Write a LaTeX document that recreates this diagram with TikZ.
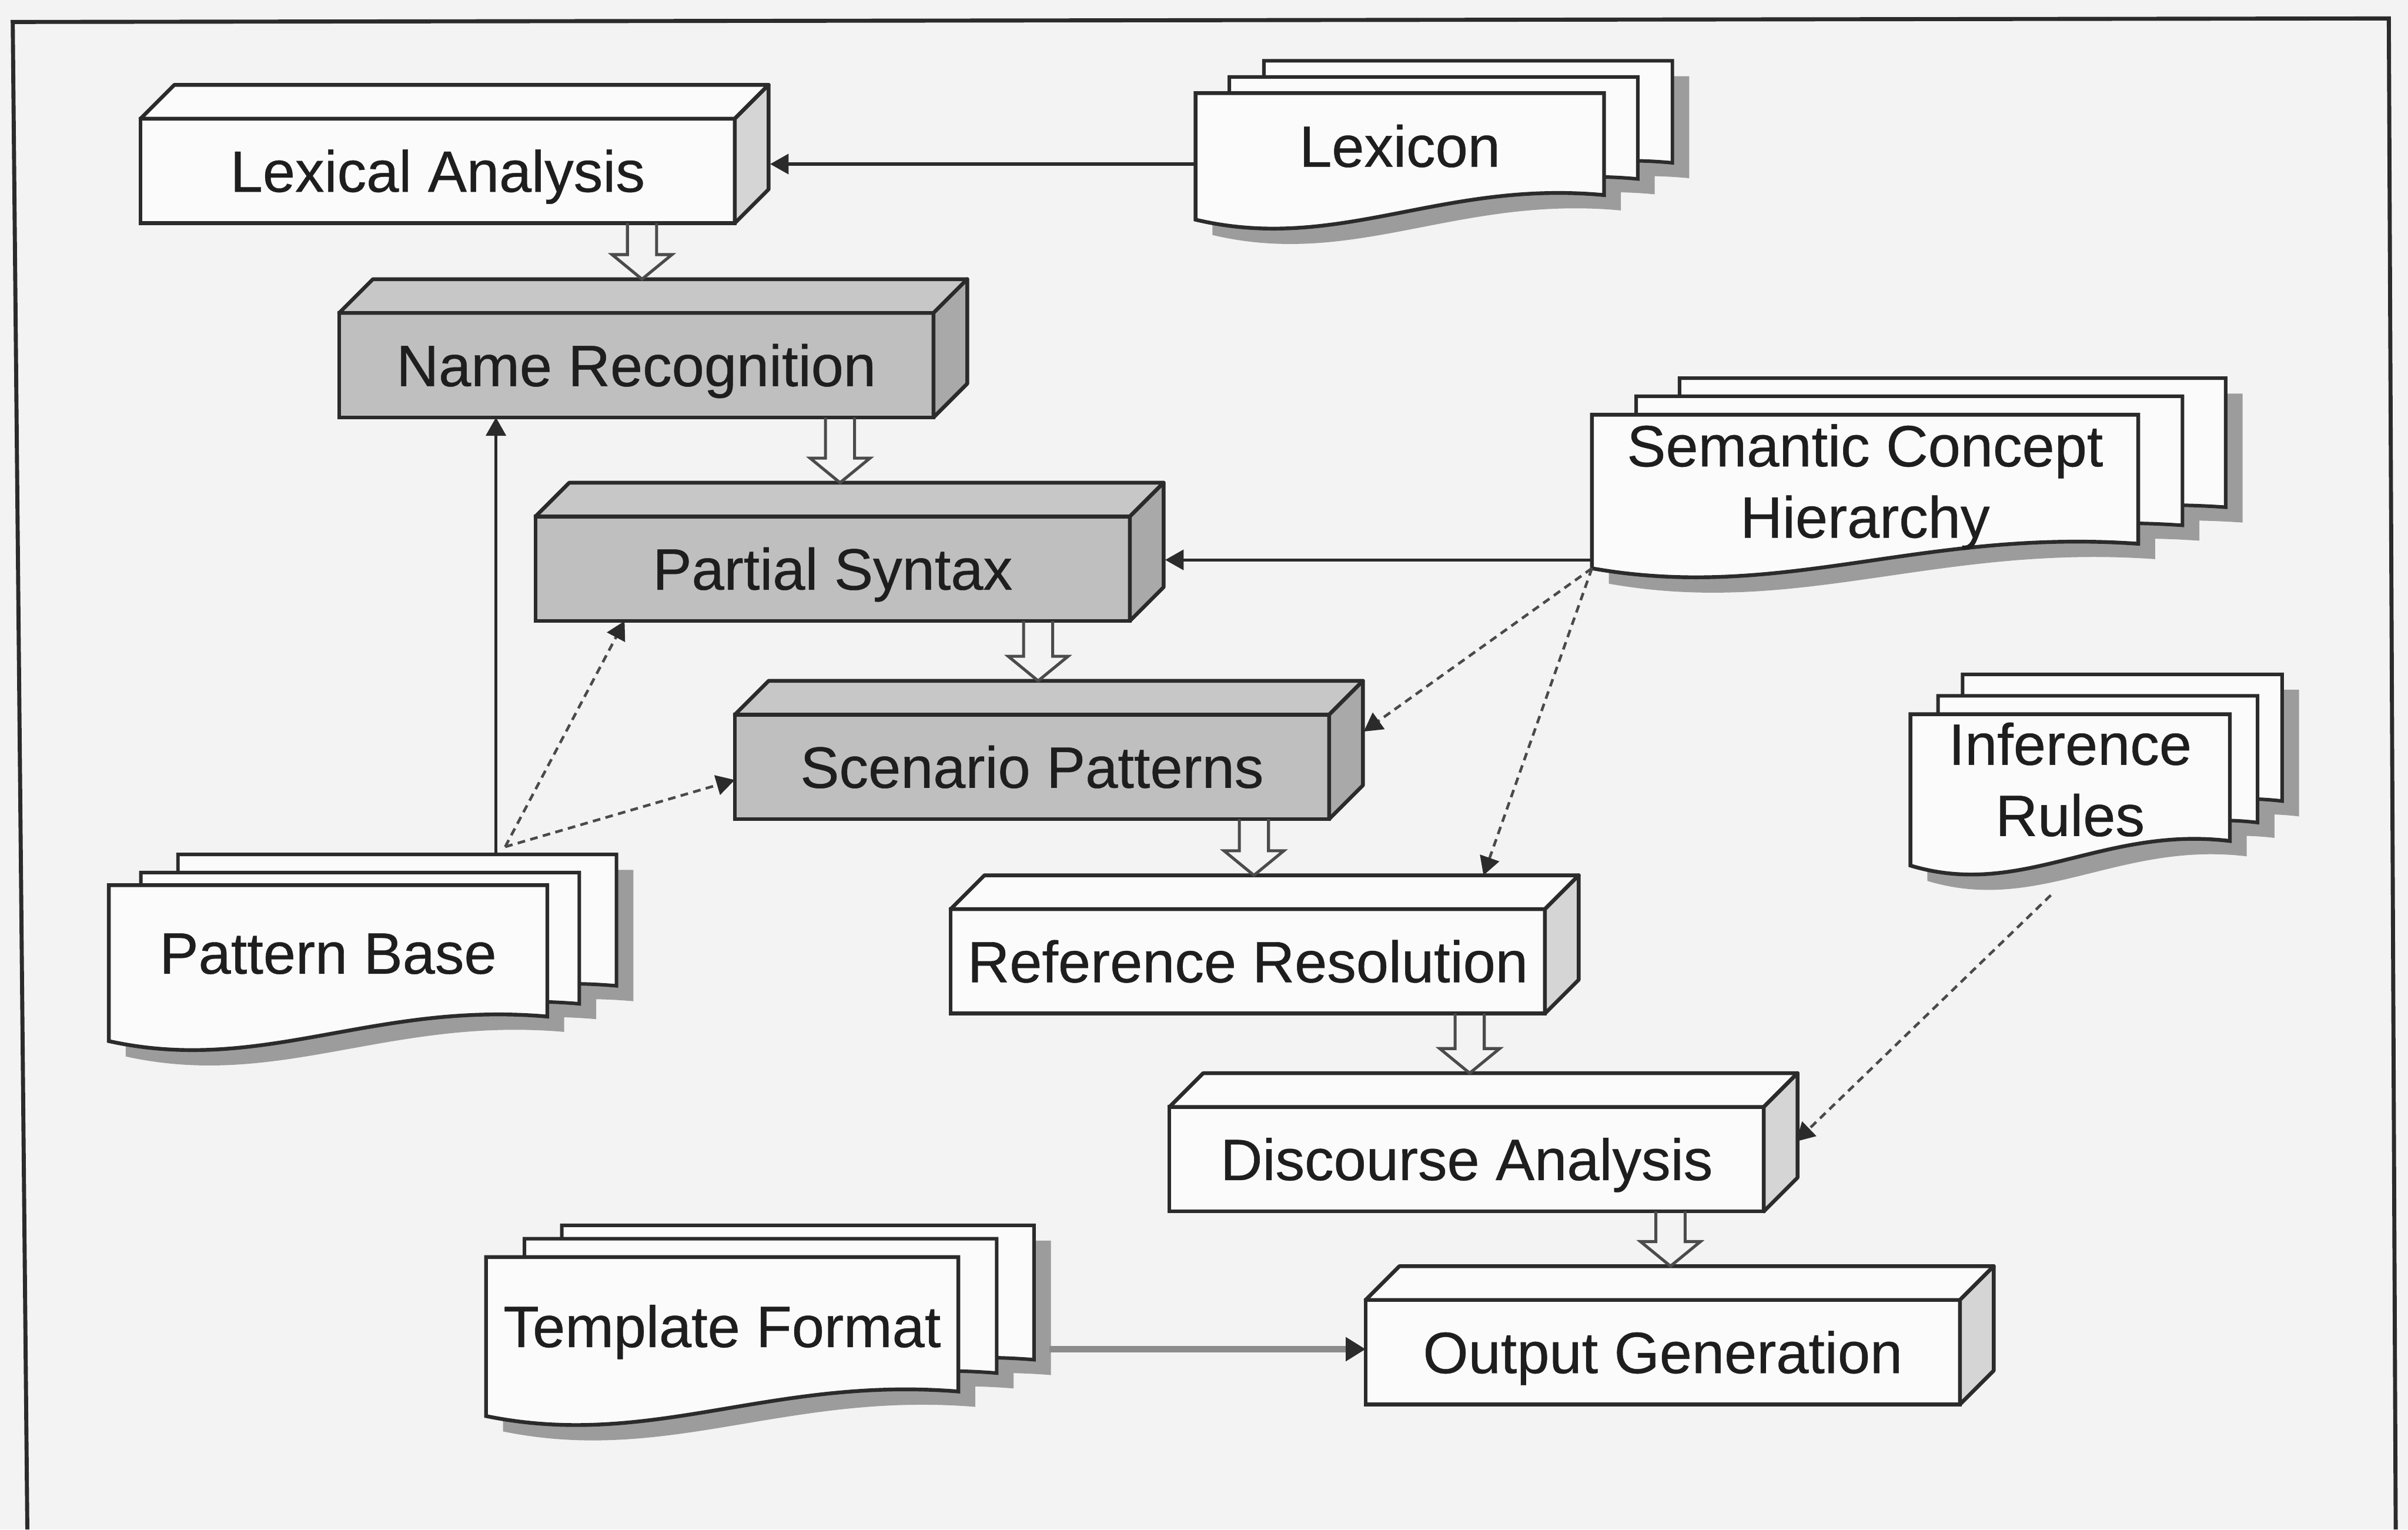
\documentclass[tikz,border=0pt]{standalone}
\usepackage{fontspec}
\setmainfont{Liberation Sans}
\newfontfamily\diafam{Liberation Sans}[FakeBold=0.45]
\usetikzlibrary{arrows.meta,calc}

\definecolor{paper}{HTML}{F3F3F3}
\definecolor{ink}{HTML}{2B2B2B}
\definecolor{textink}{HTML}{1E1E1E}
\definecolor{sheet}{HTML}{FBFBFB}
\definecolor{greyface}{HTML}{BFBFBF}
\definecolor{greytop}{HTML}{C7C7C7}
\definecolor{greyside}{HTML}{A9A9A9}
\definecolor{whiteside}{HTML}{D5D5D5}
\definecolor{shade}{HTML}{9C9C9C}
\definecolor{dashink}{HTML}{4A4A4A}
\definecolor{feedline}{HTML}{8C8C8C}

\newcommand\diafont{\diafam\fontsize{10.8pt}{13.2pt}\selectfont}
\newcommand\stacktext[1]{\raisebox{0.7pt}[\height][\depth]{\begin{tabular}{@{}c@{}}#1\end{tabular}}}

% one sheet of a document stack: top-left corner, width, height of the left side, path style
\newcommand\docshape[5]{%
  \path[#5] (#1,#2) -- ++(#3,0) -- ++(0,#4-16)
    .. controls +(-0.4*#3,-10) and +(0.35*#3,22) .. (#1,#2+#4) -- cycle;}

% a stack of three sheets with a drop shadow: x, y, w, h, offsets of the two back sheets
\newcommand\docstack[8]{%
  \foreach \ox/\oy in {#7/#8,#5/#6,0/0}
    {\docshape{#1+\ox+11}{#2+\oy+10}{#3}{#4}{fill=shade}}
  \docshape{#1+#7}{#2+#8}{#3}{#4}{draw=ink,fill=sheet,line width=0.65pt}
  \docshape{#1+#5}{#2+#6}{#3}{#4}{draw=ink,fill=sheet,line width=0.65pt}
  \docshape{#1}{#2}{#3}{#4}{draw=ink,fill=sheet,line width=0.7pt}}

\begin{document}
\begin{tikzpicture}[x=0.1mm,y=-0.1mm,
  box/.style={draw=ink, line width=0.7pt, minimum width=38.7mm, minimum height=6.8mm,
    inner sep=0pt, outer sep=0pt, font=\diafont, text=textink, text height=7.75pt, text depth=0pt},
  whitebox/.style={box, fill=sheet},
  greybox/.style={box, fill=greyface},
  face/.style={draw=ink, line width=0.7pt, line join=round},
  docnode/.style={inner sep=0pt, outer sep=0pt, font=\diafont, text=textink},
  conn/.style={draw=ink, line width=0.55pt, -{Triangle[width=1.3mm,length=1.2mm]}},
  dconn/.style={draw=dashink, line width=0.5pt, dash pattern=on 0.5mm off 0.35mm,
    -{Triangle[width=1.3mm,length=1.2mm,color=ink]}},
  feed/.style={draw=feedline, line width=1.1pt, -{Triangle[width=1.5mm,length=1.3mm,color=ink]}},
  hollow/.style={draw=ink!85, line width=0.55pt, line join=miter,
    to path={let \p1=(\tikztostart), \p2=(\tikztotarget) in
      (\x1-0.95mm,\y1) -- (\x1-0.95mm,\y2+1.6mm) -- (\x1-1.95mm,\y2+1.6mm) -- (\x1,\y2)
      -- (\x1+1.95mm,\y2+1.6mm) -- (\x1+0.95mm,\y2+1.6mm) -- (\x1+0.95mm,\y1)}}
]
\useasboundingbox (0,0) rectangle (1568,995.7);
\fill[paper] (0,0) rectangle (1568,995.7);

% frame
\draw[ink, line width=0.75pt] (17.8,995.7) -- (8.3,14.3) -- (1555.5,12) -- (1560,995.7);

% document stacks
\docstack{778.5}{60.6}{266}{82.4}{22}{-10.5}{44.5}{-21}
\docstack{1036.6}{270}{355.7}{100}{28.8}{-12}{57}{-23.8}
\docstack{1244}{465}{208}{98.5}{18}{-12}{34}{-26}
\docstack{70.9}{576.3}{285.5}{101.5}{20.8}{-8.3}{45}{-20}
\docstack{316.5}{818.4}{307.5}{103.5}{25}{-12}{49.3}{-20.7}

\node[docnode, minimum width=26.6mm, minimum height=8.24mm] (lex) at (911.5,101.8) {\stacktext{Lexicon}};
\node[docnode, minimum width=35.57mm, minimum height=10mm] (sch) at (1214.45,320) {\stacktext{Semantic Concept\\Hierarchy}};
\node[docnode, minimum width=20.8mm, minimum height=9.85mm] (ir) at (1348,514.25) {\stacktext{Inference\\Rules}};
\node[docnode, minimum width=28.55mm, minimum height=10.15mm] (pb) at (213.65,627.05) {\stacktext{Pattern Base}};
\node[docnode, minimum width=30.75mm, minimum height=10.35mm] (tf) at (470.25,870.15) {\stacktext{Template Format}};

% processing stages
\node[whitebox] (la) at (285,111.25)   {Lexical Analysis};
\node[greybox]  (nr) at (414.35,237.75) {Name Recognition};
\node[greybox]  (ps) at (542.2,370.25)  {Partial Syntax};
\node[greybox]  (sp) at (672,499.25)    {Scenario Patterns};
\node[whitebox] (rr) at (812.5,625.85)  {Reference Resolution};
\node[whitebox] (da) at (955,754.65)    {Discourse Analysis};
\node[whitebox] (og) at (1082.75,880.3) {Output Generation};

% top and side faces of the stage blocks
\foreach \n/\tp/\sd in {la/sheet/whiteside,nr/greytop/greyside,ps/greytop/greyside,
    sp/greytop/greyside,rr/sheet/whiteside,da/sheet/whiteside,og/sheet/whiteside}{
  \draw[face, fill=\tp] (\n.north west) -- ++(22,-22) -- ([shift={(22,-22)}]\n.north east)
    -- (\n.north east) -- cycle;
  \draw[face, fill=\sd] (\n.north east) -- ++(22,-22) -- ([shift={(22,-22)}]\n.south east)
    -- (\n.south east) -- cycle;
}

% flow between stages
\coordinate (h1) at ([shift={(0.37mm,2.2mm)}]nr.north);
\coordinate (h2) at ([shift={(0.48mm,2.2mm)}]ps.north);
\coordinate (h3) at ([shift={(0.4mm,2.2mm)}]sp.north);
\coordinate (h4) at ([shift={(0.4mm,2.2mm)}]rr.north);
\coordinate (h5) at ([shift={(0.2mm,2.2mm)}]da.north);
\coordinate (h6) at ([shift={(0.5mm,2.2mm)}]og.north);
\draw[hollow] (h1 |- la.south) to (h1);
\draw[hollow] (h2 |- nr.south) to (h2);
\draw[hollow] (h3 |- ps.south) to (h3);
\draw[hollow] (h4 |- sp.south) to (h4);
\draw[hollow] (h5 |- rr.south) to (h5);
\draw[hollow] (h6 |- da.south) to (h6);

% knowledge sources
\coordinate (lexL) at ([yshift=-0.5mm]lex.west);
\coordinate (laR) at ([xshift=2.3mm]la.east);
\draw[conn] (lexL) -- (lexL -| laR);

\coordinate (pbT) at ([shift={(10.93mm,2mm)}]pb.north);
\coordinate (pbD) at ([shift={(0.6mm,0.5mm)}]pbT);
\draw[conn] (pbT) -- (pbT |- nr.south);
\draw[dconn] (pbD) -- ([xshift=5.8mm]ps.south west);
\draw[dconn] (pbD) -- ([yshift=-0.85mm]sp.west);

\coordinate (schL) at ([yshift=0.55mm]sch.south west);
\coordinate (psR) at ([xshift=2.3mm]ps.east);
\draw[conn] (schL) -- (schL -| psR);
\draw[dconn] (sch.south west) -- ([shift={(2.25mm,2.3mm)}]sp.east);
\draw[dconn] (sch.south west) -- ([shift={(15.35mm,2.2mm)}]rr.north);

\coordinate (irB) at ([shift={(-1.26mm,-1.93mm)}]ir.south);
\draw[dconn] (irB) -- ([shift={(2.1mm,1.15mm)}]da.east);

\coordinate (tfR) at ([shift={(5.94mm,-0.82mm)}]tf.east);
\draw[feed] (tfR) -- (tfR -| og.west);
\end{tikzpicture}
\end{document}
